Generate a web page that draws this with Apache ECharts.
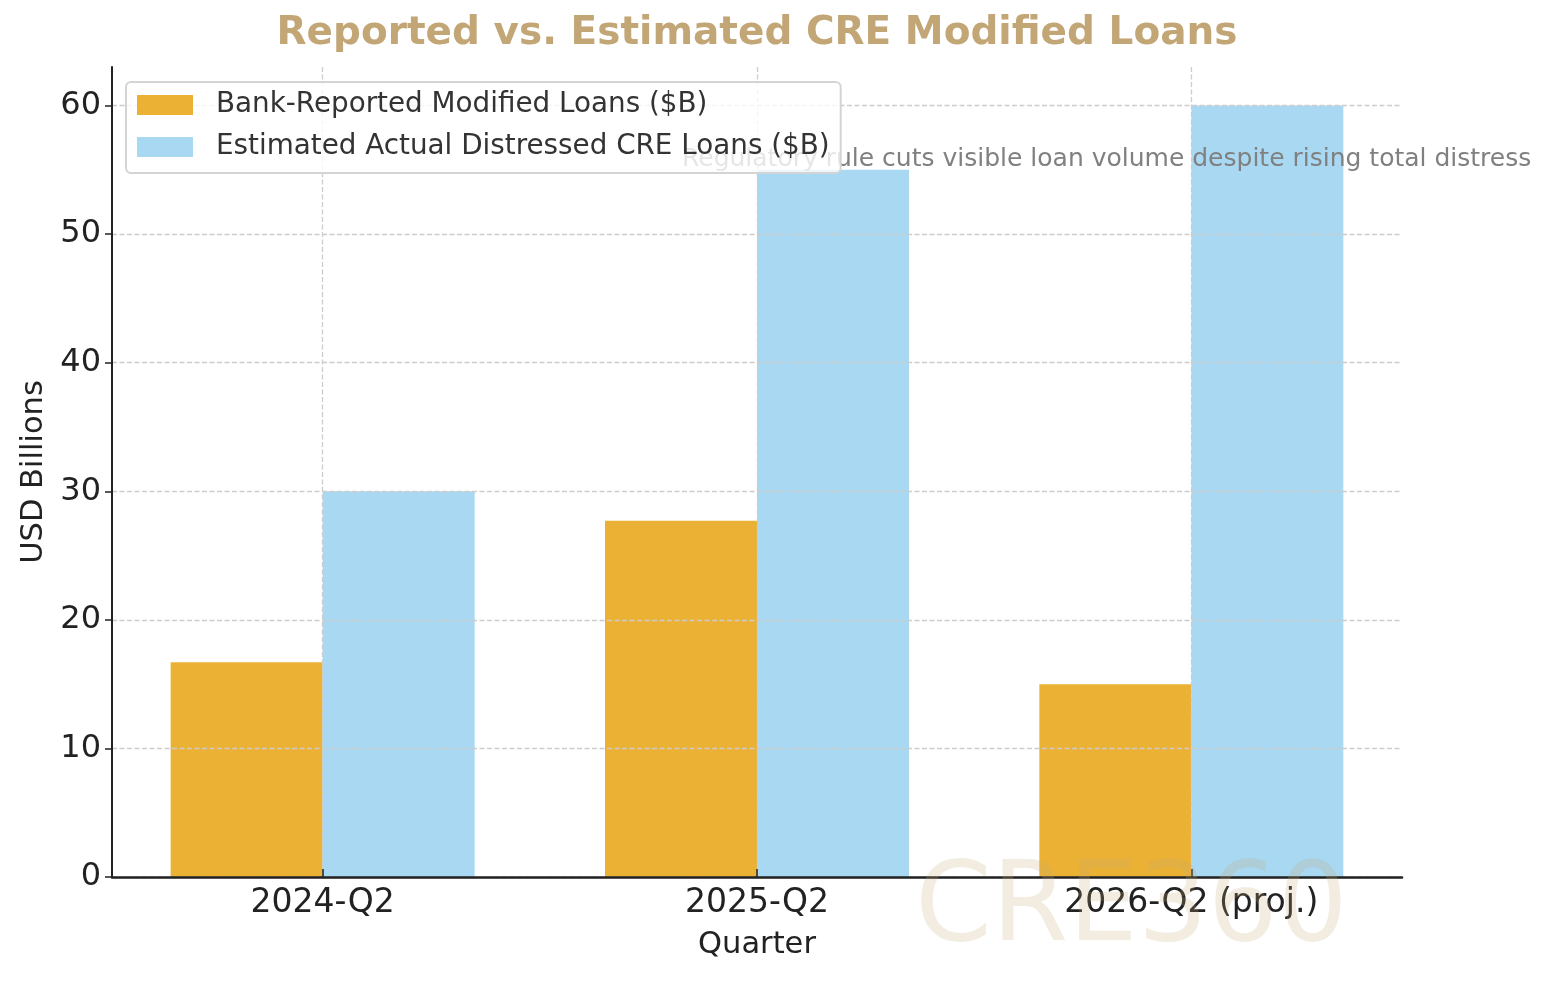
<!DOCTYPE html>
<html>
<head>
<meta charset="utf-8">
<title>Reported vs. Estimated CRE Modified Loans</title>
<script src="https://cdn.jsdelivr.net/npm/echarts@6/dist/echarts.min.js"></script>
<style>
  html, body { margin: 0; padding: 0; background: #fff; }
  #chart { width: 1552px; height: 983px; }
</style>
</head>
<body>
<div id="chart"></div>
<script>
const quarters = ['2024-Q2', '2025-Q2', '2026-Q2 (proj.)'];
const reportedLoans = [16.7, 27.7, 15.0];   // Bank-Reported Modified Loans ($B)
const estimatedLoans = [30, 55, 60];        // Estimated Actual Distressed CRE Loans ($B)
const yTicks = [0, 10, 20, 30, 40, 50, 60];
const quarterPos = quarters.map((q, i) => i);

const FONT = '"DejaVu Sans", sans-serif';
const gridLine = { show: true, lineStyle: { color: '#cccccc', width: 1.3, type: [5, 2.5] } };

const chart = echarts.init(document.getElementById('chart'));
chart.setOption({
  animation: false,
  textStyle: { fontFamily: FONT },
  title: {
    text: 'Reported vs. Estimated CRE Modified Loans',
    left: 757,
    top: 14,
    padding: 0,
    textAlign: 'center',
    textStyle: { color: '#c2a676', fontSize: 39, fontWeight: 'bold', fontFamily: FONT }
  },
  legend: {
    left: 126,
    top: 82,
    orient: 'vertical',
    icon: 'rect',
    itemWidth: 56,
    itemHeight: 20,
    itemGap: 14,
    padding: [9, 11, 12, 11],
    borderColor: '#d4d4d4',
    borderWidth: 2,
    borderRadius: 5,
    backgroundColor: 'rgba(255,255,255,0.8)',
    z: 10,
    textStyle: { fontSize: 27.8, color: '#333', fontFamily: FONT, padding: [0, 0, 0, 18] },
    data: ['Bank-Reported Modified Loans ($B)', 'Estimated Actual Distressed CRE Loans ($B)']
  },
  grid: { left: 112, right: 150, top: 67, bottom: 106 },
  xAxis: {
    type: 'value',
    min: -0.485,
    max: 2.485,
    name: 'Quarter',
    nameLocation: 'middle',
    nameGap: 53,
    nameTextStyle: { fontSize: 30.5, color: '#222', fontFamily: FONT },
    z: 5,
    axisLine: { show: true, onZero: false, lineStyle: { color: '#222', width: 2.5 } },
    axisTick: { show: true, inside: true, length: 8, customValues: quarterPos, lineStyle: { color: '#222', width: 1.5 } },
    axisLabel: {
      customValues: quarterPos,
      margin: 10,
      fontSize: 33,
      color: '#222',
      fontFamily: FONT,
      formatter: v => quarters[Math.round(v)]
    },
    splitLine: gridLine
  },
  yAxis: {
    type: 'value',
    min: 0,
    max: 63,
    name: 'USD Billions',
    nameLocation: 'middle',
    nameGap: 62,
    nameTextStyle: { fontSize: 30.5, color: '#222', fontFamily: FONT },
    z: 5,
    axisLine: { show: true, onZero: false, lineStyle: { color: '#222', width: 2 } },
    axisTick: { show: true, length: 7, customValues: yTicks, lineStyle: { color: '#222', width: 1.5 } },
    axisLabel: {
      customValues: yTicks,
      margin: 11,
      fontSize: 32,
      color: '#222',
      fontFamily: FONT
    },
    splitLine: gridLine
  },
  series: [
    {
      name: 'Bank-Reported Modified Loans ($B)',
      type: 'bar',
      barWidth: 152,
      barGap: '0%',
      itemStyle: { color: '#ebb134' },
      data: reportedLoans.map((v, i) => [quarterPos[i], v])
    },
    {
      name: 'Estimated Actual Distressed CRE Loans ($B)',
      type: 'bar',
      barWidth: 152,
      barGap: '0%',
      itemStyle: { color: '#a9d8f2' },
      data: estimatedLoans.map((v, i) => [quarterPos[i], v])
    }
  ],
  graphic: [
    {
      type: 'text',
      left: 682,
      top: 147,
      z: 3,
      style: {
        text: 'Regulatory rule cuts visible loan volume despite rising total distress',
        fill: '#808080',
        fontSize: 25,
        fontFamily: FONT
      }
    },
    {
      type: 'text',
      left: 915,
      top: 856,
      z: 20,
      silent: true,
      style: {
        text: 'CRE360',
        fill: 'rgba(194,168,120,0.22)',
        fontSize: 110,
        fontFamily: FONT
      }
    }
  ]
});
</script>
</body>
</html>
